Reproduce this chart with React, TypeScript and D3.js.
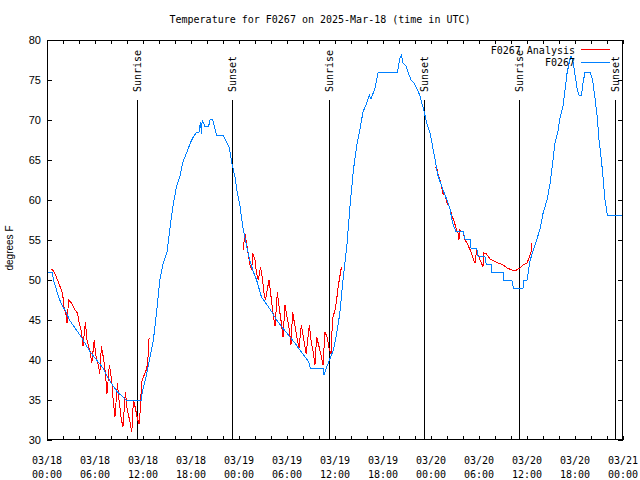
import React from "react";
import * as d3 from "d3";

const title = "Temperature for F0267 on 2025-Mar-18 (time in UTC)";
const yLabel = "degrees F";
const yTicks = [30, 35, 40, 45, 50, 55, 60, 65, 70, 75, 80];
const seriesNames = ["F0267 Analysis", "F0267"];
const seriesColors = ["#ff0000", "#0080ff"];

// hours since 2025-03-18 00:00 UTC
const sunEvents: [string, number][] = [
  ["Sunrise", 11.3], ["Sunset", 23.17], ["Sunrise", 35.2],
  ["Sunset", 47.17], ["Sunrise", 59.05], ["Sunset", 71.04],
];

const obsHours = [0, 0.67, 0.8, 1, 1.4, 1.8, 2.4, 2.8, 3.5, 4.2, 4.8, 5.4, 6.2, 7, 7.5, 8.1, 8.8, 9.9, 11.8, 11.9, 12.4, 12.8, 13.3, 13.7, 14.1, 14.5, 15, 15.4, 15.8, 16.2, 16.6, 17, 17.5, 17.9, 18.3, 18.7, 19.0, 19.2, 19.3, 19.4, 19.75, 20.2, 20.4, 20.7, 21.2, 22, 22.5, 22.8, 23.1, 23.5, 23.8, 24.1, 24.5, 25, 25.4, 25.8, 26.2, 26.8, 27.5, 28.1, 28.7, 29.3, 30.2, 31, 31.8, 32.7, 32.9, 34.5, 34.6, 35, 35.3, 35.8, 36.2, 36.6, 37, 37.5, 37.9, 38.3, 38.7, 39.1, 39.5, 39.96, 40.3, 40.5, 41, 41.4, 43.8, 44.1, 44.3, 44.5, 44.9, 45.2, 45.5, 45.9, 46.2, 46.6, 47.1, 47.5, 47.9, 48.2, 48.5, 48.8, 49.2, 49.5, 50, 50.4, 50.7, 51.1, 52, 52.25, 52.9, 53, 53.7, 53.9, 54.75, 54.9, 55.6, 55.6, 57, 57.05, 58.1, 58.3, 59.5, 59.6, 60, 60.4, 60.8, 61.2, 61.6, 62, 62.5, 62.9, 63.2, 63.5, 63.9, 64.1, 64.5, 64.75, 65, 65.3, 65.5, 65.8, 66.1, 66.3, 66.5, 66.8, 67, 67.25, 67.9, 68.2, 68.5, 68.8, 69, 69.3, 69.5, 69.75, 70.05, 72];
const obsTemps = [51, 51, 50, 49.4, 48, 47, 46, 45, 44, 43, 42, 41, 40, 39, 38, 37, 36, 35, 35, 36, 38, 40, 42.5, 46, 50, 52, 53.5, 56.7, 59.6, 61.7, 62.9, 64.8, 66, 67.1, 67.9, 68.5, 68.5, 69.8, 68.3, 70, 69.2, 69.2, 70.1, 70.1, 68.1, 68.1, 67.1, 66.5, 64.6, 62.9, 60.8, 59.4, 56.5, 54, 52.3, 51, 50, 47.9, 46.9, 46, 45, 44.2, 43.1, 42.1, 41, 39.8, 39, 39, 38.1, 39.2, 40, 41.25, 43.3, 45.8, 50, 54.5, 59.5, 63.75, 66.7, 68.75, 71, 72.1, 73.1, 72.6, 74, 76, 76, 77.7, 78.1, 77.1, 76.7, 75.8, 75, 74.6, 74, 73.1, 71.2, 69.5, 68.3, 66.7, 65.1, 63.3, 62.1, 61.25, 60, 58.75, 57.1, 56.1, 56.1, 55.1, 55.1, 54, 54, 52.9, 52.9, 52, 52, 51, 51, 50, 50, 49, 49, 50, 50, 52.5, 53.75, 55, 56.25, 58.3, 60, 62.1, 64.6, 67.1, 68.75, 70.1, 71.7, 73.75, 75.8, 77.3, 78, 77.1, 75, 73.75, 73.1, 73.1, 74.6, 76, 76, 75, 72.7, 70.2, 67.5, 65, 62.9, 60, 58.1, 58.1];

const anaHours1 = [0.46, 0.67, 1, 1.4, 1.7, 1.96, 2.1, 2.4, 2.5, 2.7, 3.1, 3.5, 3.8, 4, 4.3, 4.5, 4.8, 5, 5.4, 5.6, 5.9, 6.1, 6.4, 6.6, 6.8, 7.1, 7.3, 7.5, 7.8, 8.1, 8.3, 8.5, 8.8, 9, 9.3, 9.5, 9.8, 10, 10.4, 10.6, 10.8, 11, 11.3, 11.5, 11.7, 11.8, 12.1, 12.4, 12.6, 12.7, 12.8];
const anaTemps1 = [51.3, 51.3, 50.8, 49.8, 49, 48.3, 46.7, 45.6, 44.6, 47.5, 47.1, 46.25, 45.9, 44.8, 43.5, 41.75, 44.8, 42.5, 41, 39.6, 42.5, 40.6, 39.4, 38.3, 41.7, 40, 38.3, 35.8, 39.4, 37.3, 34.6, 32.9, 37.1, 35, 32.5, 31.7, 36, 34, 32.1, 31, 35, 34.2, 32.7, 32, 34.2, 37.1, 38, 38.75, 39.6, 42.5, 42.7];
const anaHours2 = [24.5, 24.75, 25, 25.2, 25.4, 25.6, 25.7, 26, 26.2, 26.4, 26.7, 26.96, 27.1, 27.3, 27.75, 27.96, 28.2, 28.5, 28.8, 29, 29.3, 29.5, 29.75, 30, 30.3, 30.5, 30.7, 31, 31.3, 31.5, 31.8, 32.1, 32.4, 32.8, 33, 33.3, 33.5, 33.7, 34, 34.3, 34.5, 34.75, 35, 35.3, 35.5, 35.7, 36, 36.2, 36.4, 36.6, 36.8];
const anaTemps2 = [53.75, 55.8, 54.2, 52.9, 51.7, 51.25, 53.4, 52.5, 50.8, 50, 51.6, 50, 48.5, 47.5, 50, 48.3, 46.25, 44.2, 48.5, 46.7, 44.6, 42.9, 46.9, 45.4, 43.75, 41.9, 46, 44.2, 42.5, 41.5, 44.4, 42.5, 40.8, 44.4, 42.5, 40.8, 39.4, 42.9, 41.7, 40.4, 39.4, 43.5, 42.9, 41.25, 40.8, 45.2, 46.25, 47.5, 49.2, 50.4, 51.6];
const anaHours3 = [48.5, 48.7, 48.9, 49.2, 49.5, 49.75, 50, 50.3, 50.6, 50.9, 51.2, 51.4, 51.5, 51.55, 52, 52.25, 52.5, 52.9, 53.2, 53.5, 53.7, 53.9, 54.3, 54.5, 54.6, 54.9, 55.4, 56, 56.4, 57, 57.5, 58.1, 58.7, 59.1, 59.5, 60, 60.3, 60.5, 60.6];
const anaTemps3 = [64.1, 64.1, 63.1, 62.3, 60.8, 60.6, 59.6, 59.2, 58.1, 57.3, 56.25, 55.8, 55, 56.25, 56, 55, 54.6, 53.75, 52.9, 52.1, 53.75, 53.1, 52.1, 51.7, 53.4, 53.3, 52.6, 52.3, 52.1, 51.9, 51.5, 51.25, 51.25, 51.5, 51.9, 52.1, 52.9, 53.5, 54.6];

const start = Date.UTC(2025, 2, 18);
const end = Date.UTC(2025, 2, 21);
const toDate = (h: number) => new Date(start + h * 3600000);

const W = 640, H = 480;
const L = 47, R = 623, T = 40, B = 440;
const MONO = "'DejaVu Sans Mono', monospace";
const SANS = "'Liberation Sans', Arial, sans-serif";

export default function App() {
  const x = d3.scaleUtc().domain([new Date(start), new Date(end)]).range([L, R]);
  const y = d3.scaleLinear().domain([30, 80]).range([B, T]);
  const line = d3.line<[number, number]>().x(d => x(toDate(d[0]))).y(d => y(d[1]));
  const zip = (hs: number[], vs: number[]) => hs.map((h, i) => [h, vs[i]] as [number, number]);
  const obs = zip(obsHours, obsTemps);
  const anaSegs = [zip(anaHours1, anaTemps1), zip(anaHours2, anaTemps2), zip(anaHours3, anaTemps3)];
  const xTicks = x.ticks(d3.utcHour.every(2)!);
  const labelTicks = x.ticks(d3.utcHour.every(6)!);
  const fmtD = d3.utcFormat("%m/%d");
  const fmtT = d3.utcFormat("%H:%M");
  const px = (v: number) => Math.round(v) + 0.5;

  return (
    <svg width={W} height={H} style={{ position: "absolute", left: 0, top: 0, background: "#fff" }}>
      <rect x={0} y={0} width={W} height={H} fill="#fff" />
      <text x={320} y={23} textAnchor="middle" fontFamily={MONO} fontSize={10}>{title}</text>
      {/* ticks */}
      <g stroke="#000" shapeRendering="crispEdges">
        {xTicks.map((t, i) => (
          <g key={i}>
            <line x1={px(x(t))} x2={px(x(t))} y1={B} y2={B - 4} />
            <line x1={px(x(t))} x2={px(x(t))} y1={T} y2={T + 4} />
          </g>
        ))}
        {yTicks.map((v, i) => (
          <g key={i}>
            <line x1={L} x2={L + 5} y1={px(y(v))} y2={px(y(v))} />
            <line x1={R} x2={R - 5} y1={px(y(v))} y2={px(y(v))} />
          </g>
        ))}
      </g>
      {yTicks.map((v, i) => (
        <text key={i} x={41} y={y(v) + 4} textAnchor="end" fontFamily={SANS} fontSize={11}>{v}</text>
      ))}
      {labelTicks.map((t, i) => (
        <g key={i} fontFamily={MONO} fontSize={10} textAnchor="middle">
          <text x={x(t)} y={464}>{fmtD(t)}</text>
          <text x={x(t)} y={478}>{fmtT(t)}</text>
        </g>
      ))}
      <text transform={`translate(13,248) rotate(-90)`} textAnchor="middle" fontFamily={SANS} fontSize={10}>{yLabel}</text>
      {/* sunrise / sunset */}
      {sunEvents.map(([name, h], i) => (
        <g key={i}>
          <line x1={px(x(toDate(h)))} x2={px(x(toDate(h)))} y1={100} y2={B} stroke="#000" shapeRendering="crispEdges" />
          <text transform={`translate(${x(toDate(h)) + 4},92) rotate(-90)`} fontFamily={MONO} fontSize={10}>{name}</text>
        </g>
      ))}
      {/* data */}
      {anaSegs.map((s, i) => (
        <path key={i} d={line(s) || ""} fill="none" stroke={seriesColors[0]} strokeWidth={1} shapeRendering="crispEdges" />
      ))}
      <path d={line(obs) || ""} fill="none" stroke={seriesColors[1]} strokeWidth={1} shapeRendering="crispEdges" />
      {/* legend */}
      <text x={575} y={54} textAnchor="end" fontFamily={MONO} fontSize={10}>{seriesNames[0]}</text>
      <line x1={581} x2={610} y1={49.5} y2={49.5} stroke={seriesColors[0]} />
      <text x={575} y={66} textAnchor="end" fontFamily={MONO} fontSize={10}>{seriesNames[1]}</text>
      <line x1={581} x2={610} y1={62.5} y2={62.5} stroke={seriesColors[1]} />
      {/* border */}
      <rect x={L + 0.5} y={T + 0.5} width={R - L - 1} height={B - T - 1} fill="none" stroke="#000" shapeRendering="crispEdges" />
    </svg>
  );
}
